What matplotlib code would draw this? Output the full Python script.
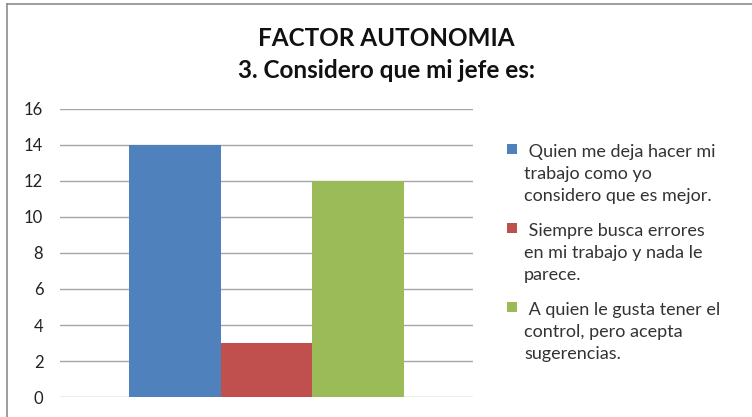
import numpy as np
import matplotlib.pyplot as plt
from matplotlib.lines import Line2D

# Data
categories = [' Quien me deja hacer mi\ntrabajo como yo\nconsidero que es mejor.',
              ' Siempre busca errores\nen mi trabajo y nada le\nparece.',
              ' A quien le gusta tener el\ncontrol, pero acepta\nsugerencias.']
values = [14, 3, 12]
colors = ['#4F81BD', '#C0504D', '#9BBB59']
yticks = [0, 2, 4, 6, 8, 10, 12, 14, 16]

plt.rcParams['font.family'] = ['Lato', 'DejaVu Sans']

fig = plt.figure(figsize=(7.52, 4.17), dpi=100)
ax = fig.add_axes([60/752, 1-397/417, (473-60)/752, (397-109)/417])

offsets = np.arange(len(values)) - 1
for off, v, c, lab in zip(offsets, values, colors, categories):
    ax.bar(off, v, width=1.0, color=c, label=lab, zorder=3)

ax.set_xlim(-2.245, 2.245)
ax.set_ylim(0, 16)
ax.set_yticks(yticks)
ax.set_xticks([])
ax.grid(axis='y', color='#A6A6A6', lw=1, zorder=0)
for s in ax.spines.values():
    s.set_visible(False)
ax.tick_params(axis='y', length=0, pad=12, labelsize=12, labelcolor='#222222')

leg = ax.legend(loc='upper left', bbox_to_anchor=(507/752, 1-144/417),
                bbox_transform=fig.transFigure, frameon=False,
                handlelength=0.55, handleheight=0.5, handletextpad=0.4,
                labelspacing=1.05, borderpad=0, borderaxespad=0,
                fontsize=13, labelcolor='#333333')
for t in leg.get_texts():
    t.set_linespacing(1.46)
# put the colour square next to the first line of each entry
for col in leg._legend_handle_box.get_children():
    for item in col.get_children():
        item.align = 'top'

fig.text(386/752, 1-38/417, 'FACTOR AUTONOMIA', ha='center', va='center',
         fontsize=17.5, fontweight='bold', color='#111111')
fig.text(386/752, 1-71/417, '3. Considero que mi jefe es:', ha='center', va='center',
         fontsize=17.5, fontweight='bold', color='#111111')

# chart frame (left and top edges visible)
fig.add_artist(Line2D([7/752, 7/752], [0, 1-4/417], transform=fig.transFigure,
                      color='#8C8C8C', lw=1.2))
fig.add_artist(Line2D([7/752, 1], [1-4/417, 1-4/417], transform=fig.transFigure,
                      color='#8C8C8C', lw=1.2))

plt.savefig('out.png', dpi=100)
